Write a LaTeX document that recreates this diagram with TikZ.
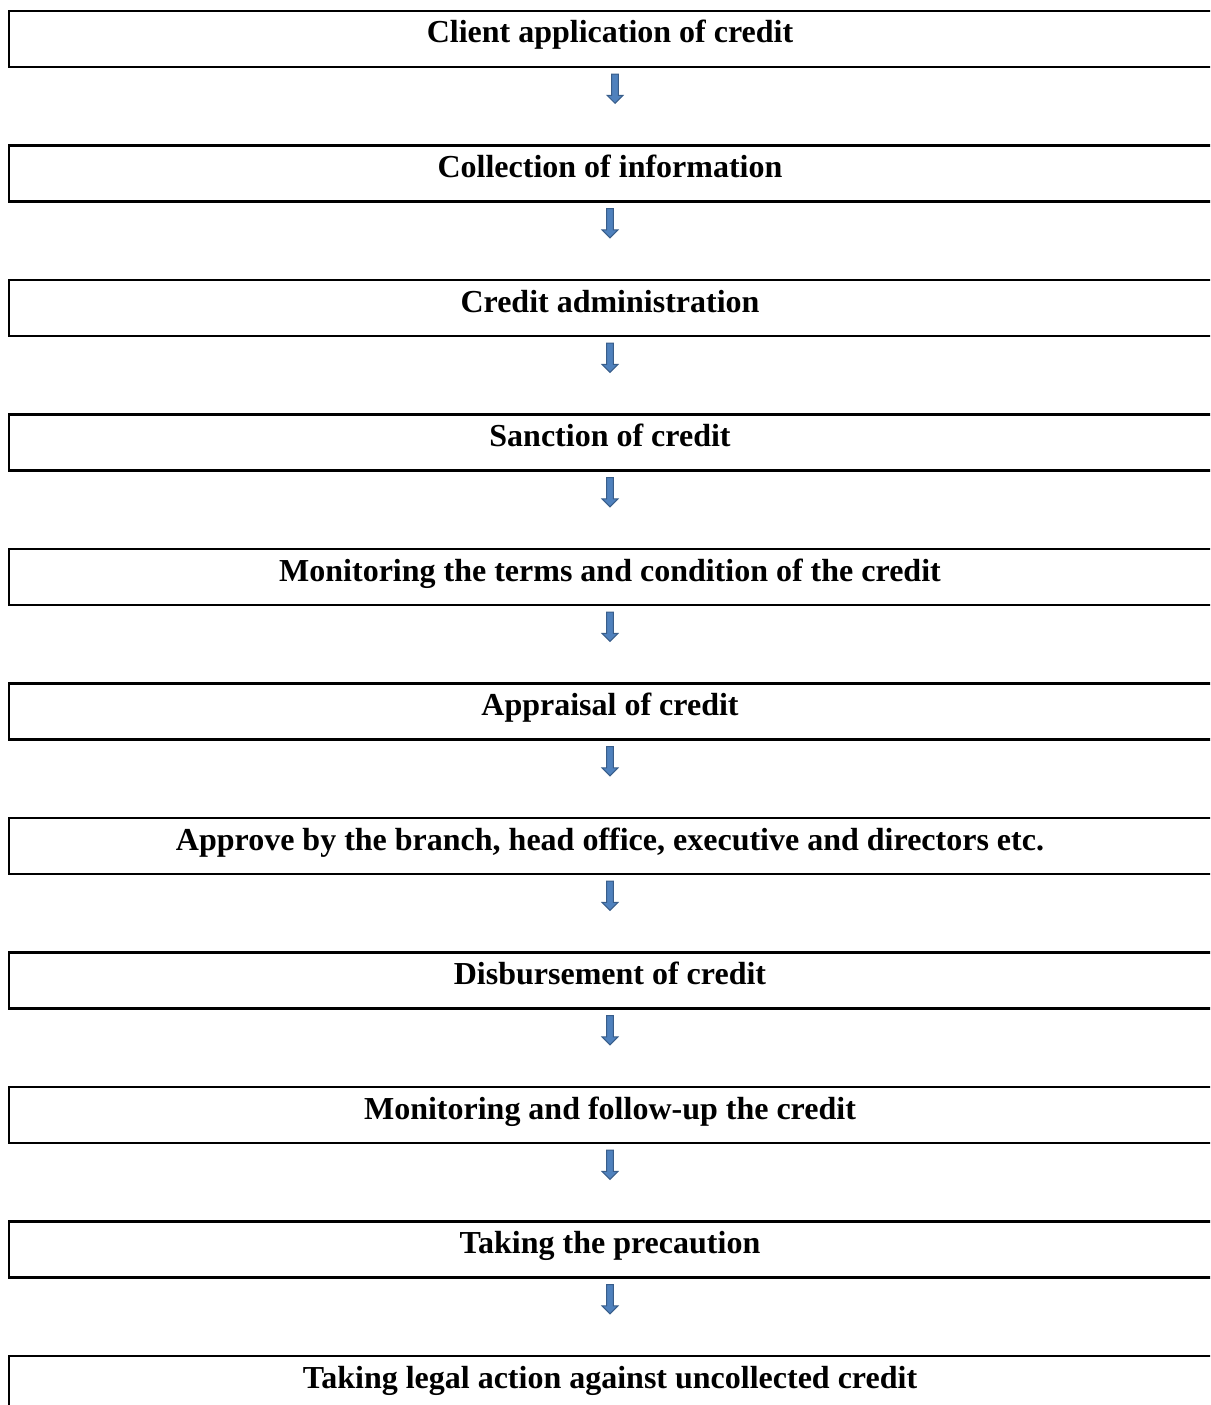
\documentclass[tikz,border=0pt]{standalone}
\usepackage{fontspec}
\setmainfont{Liberation Serif}
\usetikzlibrary{calc}
\definecolor{ablue}{HTML}{4F81BD}
\definecolor{adark}{HTML}{385D8A}
\tikzset{
  stepbox/.style={draw=black, line width=2.4pt, rectangle, minimum width=1230pt,
    minimum height=56pt, inner sep=0pt, text height=32pt, text depth=24pt,
    font=\fontsize{32}{38}\selectfont\bfseries,
    execute at begin node={\hspace*{-28pt}}},
  barrow/.style={fill=ablue, draw=adark, line width=1pt, line join=miter,
    to path={let \p1=(\tikztostart), \p2=(\tikztotarget) in
      (\x1-3.3pt,\y1) -- (\x1+3.3pt,\y1) -- (\x1+3.3pt,\y2+8pt) -- (\x1+8pt,\y2+8pt)
      -- (\x1,\y2) -- (\x1-8pt,\y2+8pt) -- (\x1-3.3pt,\y2+8pt) -- cycle}}
}
\begin{document}
\begin{tikzpicture}[x=1pt,y=-1pt]
\clip (0,0) rectangle (1210,1405);
\node[stepbox] (b1) at (624,39) {Client application of credit};
\node[stepbox] (b2) at (624,173.5) {Collection of information};
\node[stepbox] (b3) at (624,308) {Credit administration};
\node[stepbox] (b4) at (624,442.5) {Sanction of credit};
\node[stepbox] (b5) at (624,577) {Monitoring the terms and condition of the credit};
\node[stepbox] (b6) at (624,711.5) {Appraisal of credit};
\node[stepbox] (b7) at (624,846) {Approve by the branch, head office, executive and directors etc.};
\node[stepbox] (b8) at (624,980.5) {Disbursement of credit};
\node[stepbox] (b9) at (624,1115) {Monitoring and follow-up the credit};
\node[stepbox] (b10) at (624,1249.5) {Taking the precaution};
\node[stepbox] (b11) at (624,1384) {Taking legal action against uncollected credit};
\draw[barrow] ([xshift=-9pt,yshift=-6pt]b1.south) to ([xshift=-9pt,yshift=41pt]b2.north);
\foreach \a/\b in {b2/b3,b3/b4,b4/b5,b5/b6,b6/b7,b7/b8,b8/b9,b9/b10,b10/b11}{
  \draw[barrow] ([xshift=-14pt,yshift=-6pt]\a.south) to ([xshift=-14pt,yshift=41pt]\b.north);
}
\end{tikzpicture}
\end{document}
